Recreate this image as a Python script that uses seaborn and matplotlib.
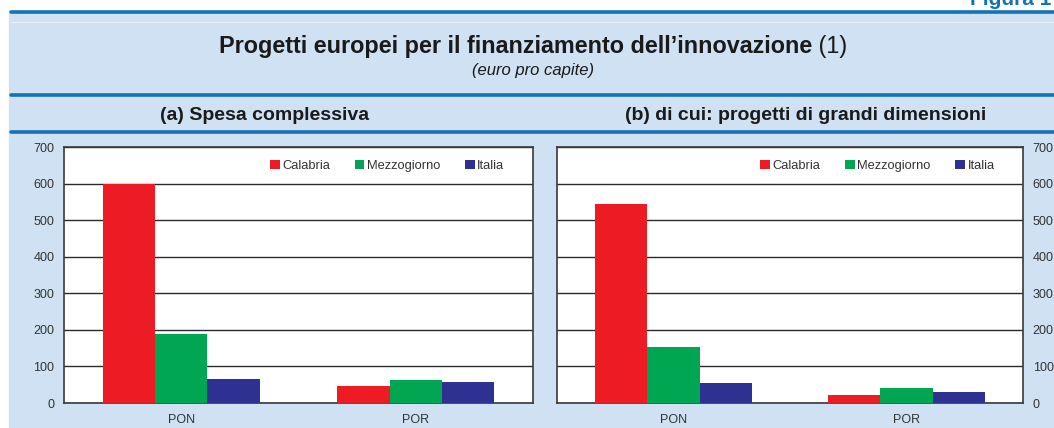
import pandas as pd
import matplotlib.pyplot as plt
import seaborn as sns
from matplotlib.patches import Rectangle
from matplotlib.lines import Line2D

sns.set_theme(style="white")
plt.rcParams["font.family"] = ["Liberation Sans", "DejaVu Sans"]

# Data (euro pro capite)
programmi = ["PON", "POR"]
aree = ["Calabria", "Mezzogiorno", "Italia"]
spesa_complessiva = {
    "Calabria": [600, 46],
    "Mezzogiorno": [189, 63],
    "Italia": [66, 57],
}
grandi_progetti = {
    "Calabria": [544, 22],
    "Mezzogiorno": [153, 41],
    "Italia": [55, 30],
}
colori = ["#ed1c24", "#00a651", "#2e3192"]

titolo = "Progetti europei per il finanziamento dell\u2019innovazione"
sottotitolo = "(euro pro capite)"
titolo_a = "(a) Spesa complessiva"
titolo_b = "(b) di cui: progetti di grandi dimensioni"


def to_long(d):
    rows = []
    for area in aree:
        for prog, v in zip(programmi, d[area]):
            rows.append({"programma": prog, "area": area, "valore": v})
    return pd.DataFrame(rows)


W, H = 1054, 428
fig = plt.figure(figsize=(W / 100, H / 100), dpi=100)
fig.patch.set_facecolor("white")

bg = "#cfe1f2"
line_col = "#1473b4"
fig.patches.append(Rectangle((9 / W, 0), 1 - 9 / W, 1 - 12 / H,
                             transform=fig.transFigure, color=bg, zorder=-5))
for yy, lw in [(12, 2.6), (95, 2.6), (132, 2.6)]:
    fig.add_artist(Line2D([11 / W, 1], [1 - yy / H] * 2, color=line_col,
                          lw=lw, transform=fig.transFigure, zorder=-1))
fig.add_artist(Line2D([11 / W, 1], [1 - 22 / H] * 2, color="#e6f0f9",
                      lw=0.8, transform=fig.transFigure, zorder=-1))

# page label, cut off at the top edge as in the original page
fig.text(970 / W, 1 - 5 / H, "Figura 1", color=line_col, fontsize=15,
         fontweight="bold", va="baseline", ha="left")

# Title: bold part + normal "(1)"
t1 = fig.text(0.5, 1 - 46 / H, titolo, fontsize=16.8, fontweight="bold",
              ha="center", va="center", color="#1a1a1a")
t2 = fig.text(0.5, 1 - 46 / H, " (1)", fontsize=16.8, ha="left",
              va="center", color="#1a1a1a")
fig.canvas.draw()
r = fig.canvas.get_renderer()
w1 = t1.get_window_extent(r).width / W
w2 = t2.get_window_extent(r).width / W
x0 = 533 / W - (w1 + w2) / 2
t1.set_ha("left")
t1.set_x(x0)
t2.set_x(x0 + w1)

fig.text(533 / W, 1 - 70 / H, sottotitolo, fontsize=12, style="italic",
         ha="center", va="center", color="#1a1a1a")
fig.text(265 / W, 1 - 115 / H, titolo_a, fontsize=14, fontweight="bold",
         ha="center", va="center", color="#1a1a1a")
fig.text(806 / W, 1 - 115 / H, titolo_b, fontsize=14, fontweight="bold",
         ha="center", va="center", color="#1a1a1a")

ax_a = fig.add_axes([64 / W, 25 / H, 469 / W, 256 / H])
ax_b = fig.add_axes([557 / W, 25 / H, 466 / W, 256 / H])

for ax, d, side in [(ax_a, spesa_complessiva, "left"),
                    (ax_b, grandi_progetti, "right")]:
    df = to_long(d)
    sns.barplot(data=df, x="programma", y="valore", hue="area",
                hue_order=aree, order=programmi, palette=colori,
                saturation=1, width=0.67, gap=0, ax=ax, zorder=3,
                edgecolor="none", linewidth=0)
    ax.set_facecolor("white")
    ax.set_ylim(0, 700)
    ax.set_yticks(range(0, 701, 100))
    ax.set_xlim(-0.5, 1.5)
    ax.set_xlabel("")
    ax.set_ylabel("")
    ax.yaxis.grid(True, color="#2a2a2a", lw=1, zorder=1)
    ax.set_axisbelow(True)
    for s in ax.spines.values():
        s.set_visible(True)
        s.set_color("#3a3a3a")
        s.set_linewidth(1.2)
    ax.tick_params(axis="both", length=0, labelsize=9, colors="#333333")
    ax.tick_params(axis="x", pad=8)
    if side == "right":
        ax.yaxis.tick_right()
    ax.tick_params(axis="y", pad=7)
    ax.legend(loc="center right", bbox_to_anchor=(0.95, 0.926), ncol=3,
              frameon=False, fontsize=9.3, handlelength=0.75,
              handleheight=0.75, handletextpad=0.2, columnspacing=1.9,
              borderaxespad=0, labelcolor="#333333")

fig.savefig("out.png", dpi=100)
